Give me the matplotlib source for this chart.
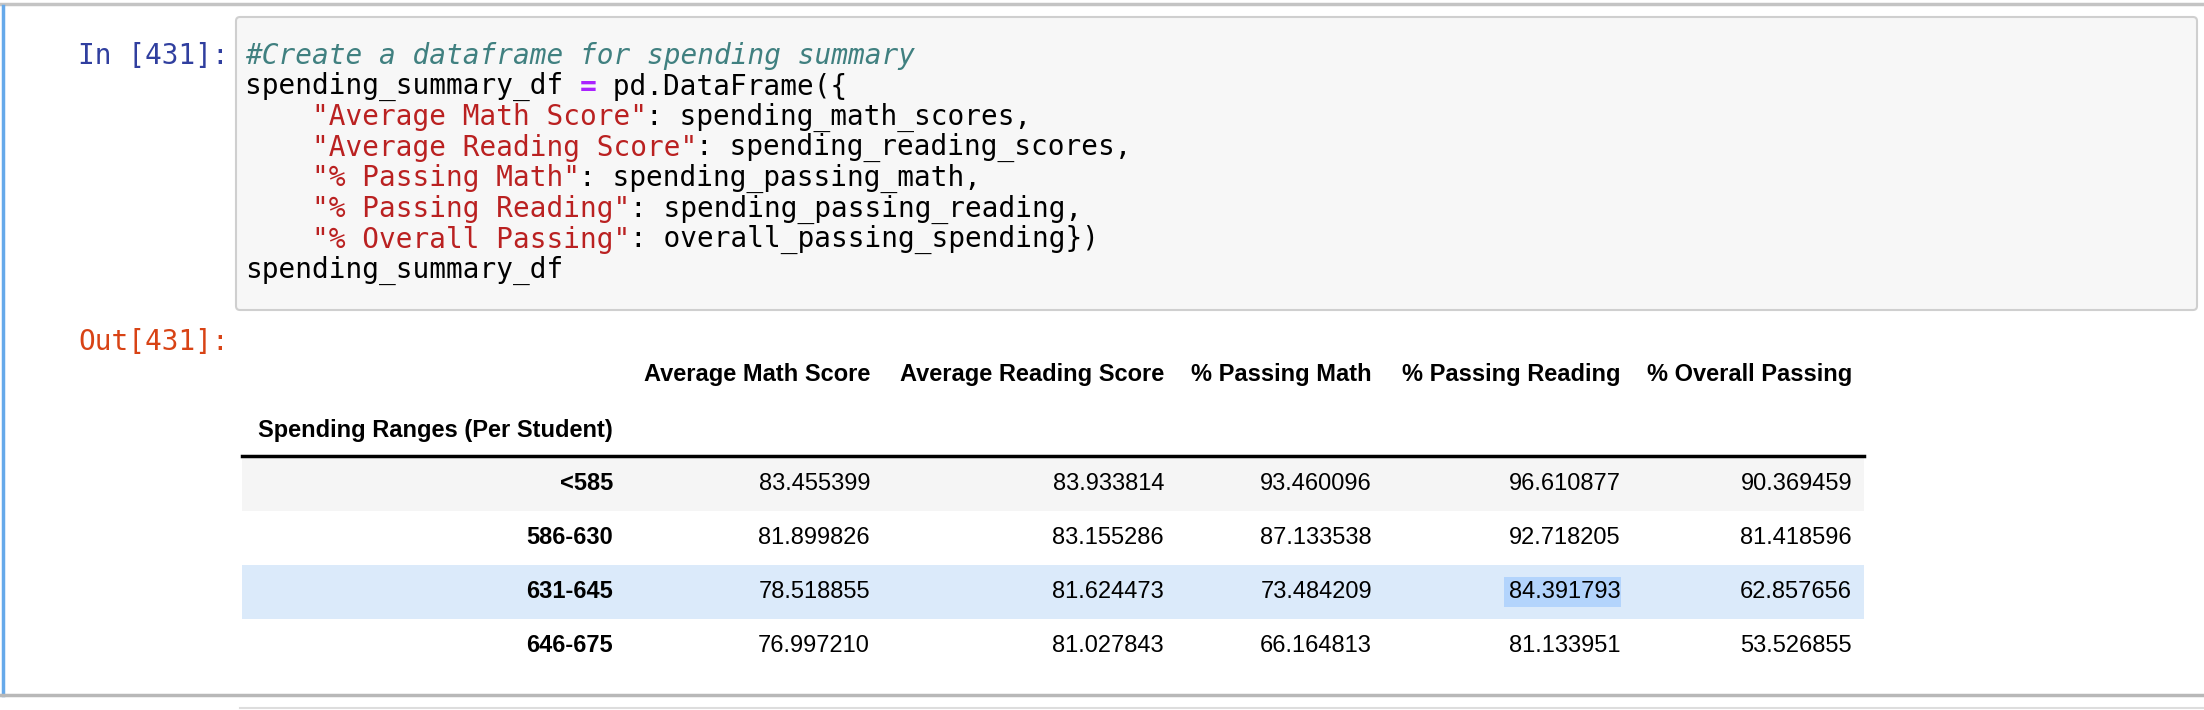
import pandas as pd
import matplotlib
matplotlib.use('Agg')
import matplotlib.pyplot as plt
from matplotlib.patches import Rectangle, FancyBboxPatch

# table values from the notebook output
spending_ranges = ['<585', '586-630', '631-645', '646-675']
avg_math = [83.455399, 81.899826, 78.518855, 76.997210]
avg_reading = [83.933814, 83.155286, 81.624473, 81.027843]
pass_math = [93.460096, 87.133538, 73.484209, 66.164813]
pass_reading = [96.610877, 92.718205, 84.391793, 81.133951]
overall_passing = [90.369459, 81.418596, 62.857656, 53.526855]
columns = ['Average Math Score', 'Average Reading Score', '% Passing Math',
           '% Passing Reading', '% Overall Passing']

df = pd.DataFrame({
    columns[0]: avg_math,
    columns[1]: avg_reading,
    columns[2]: pass_math,
    columns[3]: pass_reading,
    columns[4]: overall_passing}, index=spending_ranges)

W, H = 2204, 710
fig = plt.figure(figsize=(W / 100, H / 100), dpi=100)
ax = fig.add_axes([0, 0, 1, 1])
ax.set_xlim(0, W)
ax.set_ylim(H, 0)
ax.axis('off')

# cell frame
ax.plot([0, W], [4, 4], color='#c4c4c4', lw=2.5)
ax.plot([3, 3], [6, 695], color='#66a9ea', lw=2.5)
ax.plot([0, W], [695, 695], color='#b8b8b8', lw=2.5)
ax.plot([240, W], [708, 708], color='#dddddd', lw=1.5)

# input area
ax.add_patch(FancyBboxPatch((236, 17), 1961, 293, boxstyle='round,pad=0,rounding_size=4',
                            fc='#f7f7f7', ec='#cfcfcf', lw=1.5))
mono = 'DejaVu Sans Mono'
fs_code = 20
cw = 16.72
ax.text(229, 56, 'In [431]:', ha='right', va='center', family=mono, fontsize=fs_code, color='#303f9f')
ax.text(229, 342, 'Out[431]:', ha='right', va='center', family=mono, fontsize=fs_code, color='#d84315')

code_lines = [
    [('#Create a dataframe for spending summary', '#408080', 'italic', 'normal')],
    [('spending_summary_df ', 'black', 'normal', 'normal'), ('=', '#aa22ff', 'normal', 'bold'),
     (' pd.DataFrame({', 'black', 'normal', 'normal')],
    [('    ', 'black', 'normal', 'normal'), ('"Average Math Score"', '#ba2121', 'normal', 'normal'),
     (': spending_math_scores,', 'black', 'normal', 'normal')],
    [('    ', 'black', 'normal', 'normal'), ('"Average Reading Score"', '#ba2121', 'normal', 'normal'),
     (': spending_reading_scores,', 'black', 'normal', 'normal')],
    [('    ', 'black', 'normal', 'normal'), ('"% Passing Math"', '#ba2121', 'normal', 'normal'),
     (': spending_passing_math,', 'black', 'normal', 'normal')],
    [('    ', 'black', 'normal', 'normal'), ('"% Passing Reading"', '#ba2121', 'normal', 'normal'),
     (': spending_passing_reading,', 'black', 'normal', 'normal')],
    [('    ', 'black', 'normal', 'normal'), ('"% Overall Passing"', '#ba2121', 'normal', 'normal'),
     (': overall_passing_spending})', 'black', 'normal', 'normal')],
    [('spending_summary_df', 'black', 'normal', 'normal')],
]
for i, segs in enumerate(code_lines):
    y = 56 + i * 30.6
    n = 0
    for txt, col, style, weight in segs:
        ax.text(245 + n * cw, y, txt, ha='left', va='center', family=mono, fontsize=fs_code,
                color=col, style=style, weight=weight)
        n += len(txt)

# output table
sans = 'Liberation Sans'
fs = 17
tbl_left, tbl_right = 242, 1864
col_right = [870, 1164, 1372, 1621, 1852]
idx_right = 613
for c, x in zip(columns, col_right):
    ax.text(x, 375, c, ha='right', va='center', family=sans, fontsize=fs, weight='bold')
ax.text(idx_right, 430, 'Spending Ranges (Per Student)', ha='right', va='center',
        family=sans, fontsize=fs, weight='bold')

row_top, row_h = 457, 54
bands = ['#f5f5f5', 'white', '#dbeafa', 'white']
for i, name in enumerate(df.index):
    top = row_top + i * row_h
    ax.add_patch(Rectangle((tbl_left, top), tbl_right - tbl_left, row_h, fc=bands[i], ec='none'))
    yc = top + row_h / 2
    ax.text(idx_right, yc, name, ha='right', va='center', family=sans, fontsize=fs, weight='bold')
    for j, c in enumerate(columns):
        val = '%.6f' % df.iloc[i][c]
        if i == 2 and j == 3:
            ax.add_patch(Rectangle((1504, yc - 15), col_right[j] - 1504, 30, fc='#b3d4fc', ec='none'))
        ax.text(col_right[j], yc, val, ha='right', va='center', family=sans, fontsize=fs)
ax.plot([tbl_left, tbl_right], [456, 456], color='black', lw=2.5)

fig.savefig('out.png', dpi=100)
